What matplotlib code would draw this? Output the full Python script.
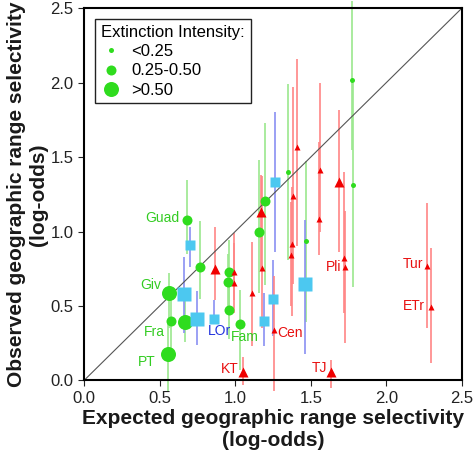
import matplotlib
matplotlib.use("Agg")
import matplotlib.pyplot as plt
from matplotlib.lines import Line2D

plt.rcParams["font.family"] = ["Liberation Sans", "DejaVu Sans"]

# green circles
green_x = [0.68, 0.77, 0.96, 0.95, 0.96, 1.03, 0.565, 0.575, 0.67, 0.555, 1.16, 1.20, 1.35, 1.47, 1.77, 1.78]
green_y = [1.08, 0.76, 0.73, 0.66, 0.47, 0.38, 0.59, 0.40, 0.395, 0.175, 1.00, 1.205, 1.40, 0.935, 2.02, 1.31]
green_lo = [0.85, 0.55, 0.50, 0.45, 0.28, 0.07, 0.35, 0.15, 0.26, -0.07, 0.59, 0.64, 0.81, 0.39, 1.55, 0.63]
green_hi = [1.345, 1.07, 0.94, 0.85, 0.65, 0.61, 0.72, 0.62, 0.55, 0.40, 1.48, 1.73, 1.99, 1.47, 2.55, 2.0]
green_cls = [1, 1, 1, 1, 1, 1, 2, 1, 2, 2, 1, 1, 0, 0, 0, 0]

# blue squares
sq_x = [0.70, 0.66, 0.75, 0.86, 1.265, 1.25, 1.19, 1.46]
sq_y = [0.91, 0.58, 0.41, 0.415, 1.33, 0.55, 0.40, 0.65]
sq_lo = [0.76, 0.32, 0.24, 0.38, 0.86, 0.30, 0.23, 0.18]
sq_hi = [1.03, 0.83, 0.60, 0.54, 1.80, 0.81, 0.59, 1.08]
sq_cls = [1, 2, 2, 1, 1, 1, 1, 2]

# red triangles
red_x = [0.867, 0.99, 0.995, 1.05, 1.11, 1.177, 1.168, 1.254, 1.41, 1.38, 1.374, 1.366,
         1.559, 1.556, 1.684, 1.72, 1.725, 1.636, 2.27, 2.293]
red_y = [0.748, 0.73, 0.654, 0.054, 0.589, 0.757, 1.134, 0.339, 1.564, 1.237, 0.913, 0.845,
         1.413, 1.084, 1.332, 0.82, 0.764, 0.059, 0.768, 0.495]
red_lo = [0.54, 0.54, 0.45, -0.03, 0.23, 0.35, 0.74, -0.07, 0.90, 0.65, 0.43, 0.50,
          1.0, 0.84, 0.86, 0.45, 0.25, -0.05, 0.35, 0.12]
red_hi = [1.03, 0.99, 0.92, 0.16, 0.93, 1.37, 1.38, 0.70, 2.156, 1.97, 1.3, 1.2,
          2.0, 1.6, 1.815, 1.40, 1.14, 0.14, 1.19, 0.89]
red_cls = [2, 0, 0, 2, 0, 0, 2, 0, 0, 0, 0, 0, 0, 0, 2, 0, 0, 2, 0, 0]

# point labels: text, x, y, colour key, alignment
labels = [
    ("Guad", 0.63, 1.09, "g", "right"),
    ("Giv", 0.51, 0.64, "g", "right"),
    ("Fra", 0.534, 0.327, "g", "right"),
    ("PT", 0.475, 0.122, "g", "right"),
    ("Fam", 0.974, 0.294, "g", "left"),
    ("LOr", 0.818, 0.334, "b", "left"),
    ("KT", 1.02, 0.077, "r", "right"),
    ("Cen", 1.276, 0.317, "r", "left"),
    ("TJ", 1.607, 0.082, "r", "right"),
    ("Pli", 1.70, 0.764, "r", "right"),
    ("Tur", 2.243, 0.782, "r", "right"),
    ("ETr", 2.254, 0.50, "r", "right"),
]
legend_labels = ["<0.25", "0.25-0.50", ">0.50"]

GREEN = "#2fdc1e"
CYAN = "#4cc8f0"
RED = "#f00000"
text_col = {"g": "#33cc22", "b": "#2233dd", "r": "#e81010"}
circ_ms = [3.6, 7.2, 10.8]
sq_ms = [5.0, 6.5, 9.4]
tri_ms = [3.8, 5.5, 7.4]

fig = plt.figure(figsize=(4.74, 4.69), dpi=100)
ax = fig.add_axes([0.1772, 0.1887, 0.7975, 0.7942])

# error bars
ax.vlines(green_x, green_lo, green_hi, colors="#9be88e", lw=1.2, clip_on=False, zorder=1)
ax.vlines(sq_x, sq_lo, sq_hi, colors="#8a90f2", lw=1.2, clip_on=False, zorder=1)
ax.vlines(red_x, red_lo, red_hi, colors="#ff8585", lw=1.2, clip_on=False, zorder=1)

ax.plot([0, 2.5], [0, 2.5], color="#555555", lw=0.8, zorder=2)

for x, y, c in zip(green_x, green_y, green_cls):
    ax.plot(x, y, "o", color=GREEN, ms=circ_ms[c], mec="none", zorder=3)
for x, y, c in zip(sq_x, sq_y, sq_cls):
    ax.plot(x, y, "s", color=CYAN, ms=sq_ms[c], mec="none", zorder=3)
for x, y, c in zip(red_x, red_y, red_cls):
    ax.plot(x, y, "^", color=RED, ms=tri_ms[c], mec="none", zorder=3)

for txt, x, y, k, ha in labels:
    ax.text(x, y, txt, color=text_col[k], fontsize=10, ha=ha, va="center", zorder=4)

ax.set_xlim(0, 2.5)
ax.set_ylim(0, 2.5)
ax.set_xticks([0, 0.5, 1.0, 1.5, 2.0, 2.5])
ax.set_yticks([0, 0.5, 1.0, 1.5, 2.0, 2.5])
ax.set_xticklabels(["0.0", "0.5", "1.0", "1.5", "2.0", "2.5"])
ax.set_yticklabels(["0.0", "0.5", "1.0", "1.5", "2.0", "2.5"])
ax.tick_params(direction="out", length=4, width=0.8, labelsize=12, colors="#222222")
for s in ax.spines.values():
    s.set_linewidth(1.5)

ax.set_xlabel("Expected geographic range selectivity\n(log-odds)", fontsize=15,
              fontweight="bold", labelpad=2, color="#1a1a1a")
ax.set_ylabel("Observed geographic range selectivity\n(log-odds)", fontsize=15,
              fontweight="bold", labelpad=2, color="#1a1a1a")

handles = [Line2D([], [], ls="none", marker="o", color=GREEN, mec="none", ms=m) for m in circ_ms]
leg = ax.legend(handles, legend_labels, title="Extinction Intensity:", loc="upper left",
                bbox_to_anchor=(0.03, 0.97), borderaxespad=0, fontsize=12, title_fontsize=12,
                fancybox=False, edgecolor="#222222", framealpha=1, labelspacing=0.25,
                handlelength=1.2, handletextpad=0.6, alignment="left", borderpad=0.35)
leg.get_frame().set_linewidth(1.0)

fig.savefig("out.png", dpi=100)
